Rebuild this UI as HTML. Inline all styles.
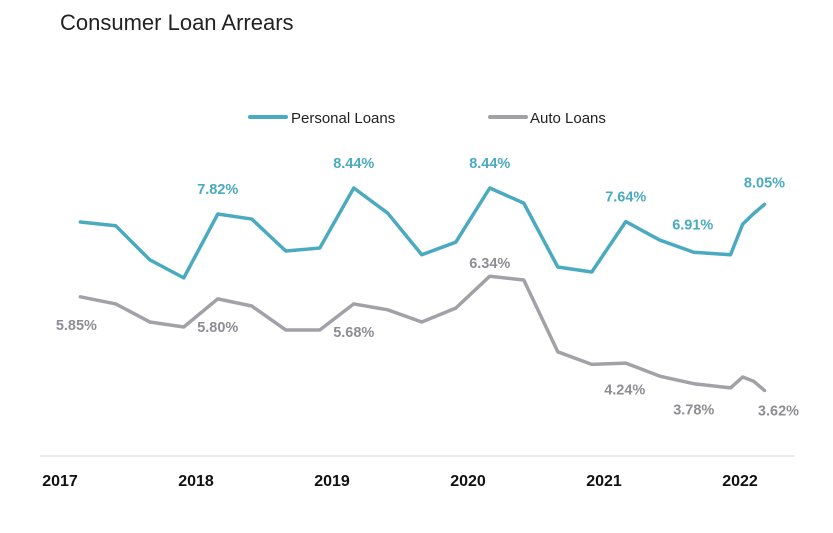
<!DOCTYPE html>
<html><head><meta charset="utf-8"><style>
body{margin:0;background:#fff;width:833px;height:528px;overflow:hidden;font-family:"Liberation Sans",sans-serif}
</style></head><body>
<svg id="chart" width="833" height="528" xmlns="http://www.w3.org/2000/svg">
<text x="60" y="30" font-size="22" fill="#222">Consumer Loan Arrears</text>
<g>
<line x1="250" y1="117" x2="286" y2="117" stroke="#4aaabf" stroke-width="4" stroke-linecap="round"/>
<text x="291" y="123" font-size="15" fill="#222">Personal Loans</text>
<line x1="490" y1="117" x2="526" y2="117" stroke="#a3a1a8" stroke-width="4" stroke-linecap="round"/>
<text x="530" y="123" font-size="15" fill="#222">Auto Loans</text>
</g>
<line x1="40" y1="456" x2="795" y2="456" stroke="#e3e3e8" stroke-width="1.5"/>
<g id="xt"></g><g id="series"></g><g id="labels"></g>
</svg>
<script>
const dates=[2017.15,2017.41,2017.66,2017.91,2018.16,2018.41,2018.66,2018.91,2019.16,2019.41,2019.66,2019.91,2020.16,2020.41,2020.66,2020.91,2021.16,2021.41,2021.66,2021.93,2022.02,2022.10,2022.18];
const personal=[7.63,7.54,6.73,6.30,7.82,7.70,6.94,7.01,8.44,7.84,6.85,7.15,8.44,8.08,6.56,6.44,7.64,7.20,6.91,6.85,7.58,7.83,8.05];
const auto=[5.85,5.68,5.25,5.13,5.80,5.63,5.06,5.06,5.68,5.54,5.25,5.58,6.34,6.25,4.54,4.24,4.27,3.96,3.78,3.68,3.94,3.84,3.62];
const years=[2017,2018,2019,2020,2021,2022];
const personalLabelIdx=[4,8,12,16,18,22];
const autoLabelIdx=[0,4,8,12,15,18,22];
const X=d=>60+(d-2017)*136;
const Y=v=>188+(8.44-v)*42;
const NS="http://www.w3.org/2000/svg";
function mk(t,a,p){const e=document.createElementNS(NS,t);for(const k in a)e.setAttribute(k,a[k]);p.appendChild(e);return e;}
const xt=document.getElementById('xt');
years.forEach(y=>{const t=mk('text',{x:X(y),y:486,'text-anchor':'middle','font-size':16,'font-weight':'bold',fill:'#111'},xt);


t.textContent=y;});
const sg=document.getElementById('series'),lg=document.getElementById('labels');
function line(vals,col,name){const p=mk('polyline',{points:vals.map((v,i)=>X(dates[i])+','+Y(v)).join(' '),fill:'none',stroke:col,'stroke-width':3.5,'stroke-linejoin':'round','stroke-linecap':'round'},sg);

}
line(personal,'#4aaabf','personal-loans-line');
line(auto,'#a3a1a8','auto-loans-line');
personalLabelIdx.forEach(i=>{const t=mk('text',{x:X(dates[i])+(i===22?0:0),y:Y(personal[i])-(i===22?17:20),'text-anchor':'middle','font-size':14.5,'font-weight':'bold',fill:'#4aaabf'},lg);
if(i===18){t.setAttribute('y',Y(personal[i])-23);t.setAttribute('x',X(dates[i])-1);}


t.textContent=personal[i].toFixed(2)+'%';});
autoLabelIdx.forEach(i=>{let x=X(dates[i]),y=Y(auto[i])+33;
if(i===0){x=X(dates[i])-4;}
if(i===12){y=Y(auto[i])-8;}
if(i===22){x=X(dates[i])+14;y=Y(auto[i])+25;}
if(i===18){y=Y(auto[i])+31;}
if(i===15){x=X(dates[i])+33;y=Y(auto[i])+30;}
const t=mk('text',{x:x,y:y,'text-anchor':'middle','font-size':14.5,'font-weight':'bold',fill:'#8f8d94'},lg);


t.textContent=auto[i].toFixed(2)+'%';});
</script>
</body></html>
